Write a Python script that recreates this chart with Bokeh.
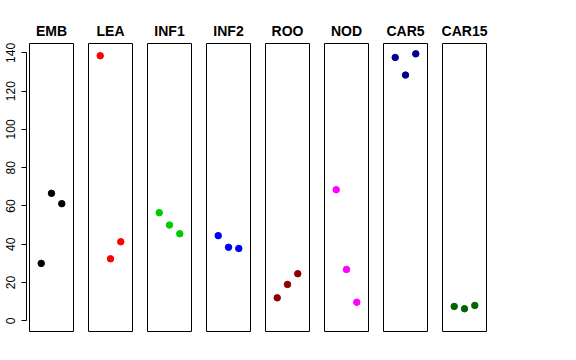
from bokeh.plotting import figure
from bokeh.layouts import row
from bokeh.models import Range1d, FixedTicker, LinearAxis
from bokeh.embed import file_html
from bokeh.resources import INLINE

categories = ["EMB", "LEA", "INF1", "INF2", "ROO", "NOD", "CAR5", "CAR15"]
replicate = [1, 2, 3]
EMB = [30.0, 66.6, 61.2]
LEA = [138.5, 32.4, 41.3]
INF1 = [56.5, 50.0, 45.5]
INF2 = [44.5, 38.4, 37.8]
ROO = [12.0, 19.0, 24.6]
NOD = [68.5, 26.8, 9.7]
CAR5 = [137.6, 128.4, 139.5]
CAR15 = [7.5, 6.3, 8.0]
series = [EMB, LEA, INF1, INF2, ROO, NOD, CAR5, CAR15]
colors = ["#000000", "#FF0000", "#00CD00", "#0000FF", "#8B0000", "#FF00FF", "#00008B", "#006400"]
y_ticks = [0, 20, 40, 60, 80, 100, 120, 140]

FONT = "Liberation Sans"
yr = Range1d(-5.6, 144.9)
FH = 288
TOP = 43
BOT = 10

# axis-only figure
ax = figure(frame_width=3, frame_height=FH, x_range=Range1d(0, 1), y_range=yr,
            x_axis_type=None, y_axis_type=None, toolbar_location=None,
            output_backend="svg", min_border_top=TOP, min_border_bottom=BOT,
            min_border_left=26, min_border_right=0, outline_line_color=None)
ax.grid.visible = False
yaxis = LinearAxis(ticker=FixedTicker(ticks=y_ticks), bounds=(0, 140))
yaxis.major_label_orientation = "vertical"
yaxis.major_tick_out = 5
yaxis.major_tick_in = 0
yaxis.minor_tick_out = 0
yaxis.minor_tick_in = 0
yaxis.major_label_standoff = 6
yaxis.major_label_text_font = FONT
yaxis.major_label_text_font_size = "12px"
yaxis.major_label_text_color = "#000000"
yaxis.axis_line_color = "#000000"
yaxis.major_tick_line_color = "#000000"
ax.add_layout(yaxis, "left")

panels = [ax]
for i, (name, vals, col) in enumerate(zip(categories, series, colors)):
    p = figure(frame_width=44, frame_height=FH, x_range=Range1d(-0.14, 4.14), y_range=yr,
               x_axis_type=None, y_axis_type=None, toolbar_location=None,
               output_backend="svg", min_border_top=TOP, min_border_bottom=BOT,
               min_border_left=0, min_border_right=15,
               outline_line_color="#000000", outline_line_width=1, title=name)
    p.grid.visible = False
    p.title.align = "center"
    p.title.text_font = FONT
    p.title.text_font_style = "bold"
    p.title.text_font_size = "14px"
    p.title.text_color = "#000000"
    p.title.standoff = 10
    p.scatter(replicate, vals, size=6.5, color=col, line_color=col)
    panels.append(p)

layout = row(*panels, spacing=0)
open("out.html", "w").write(file_html(layout, INLINE))
